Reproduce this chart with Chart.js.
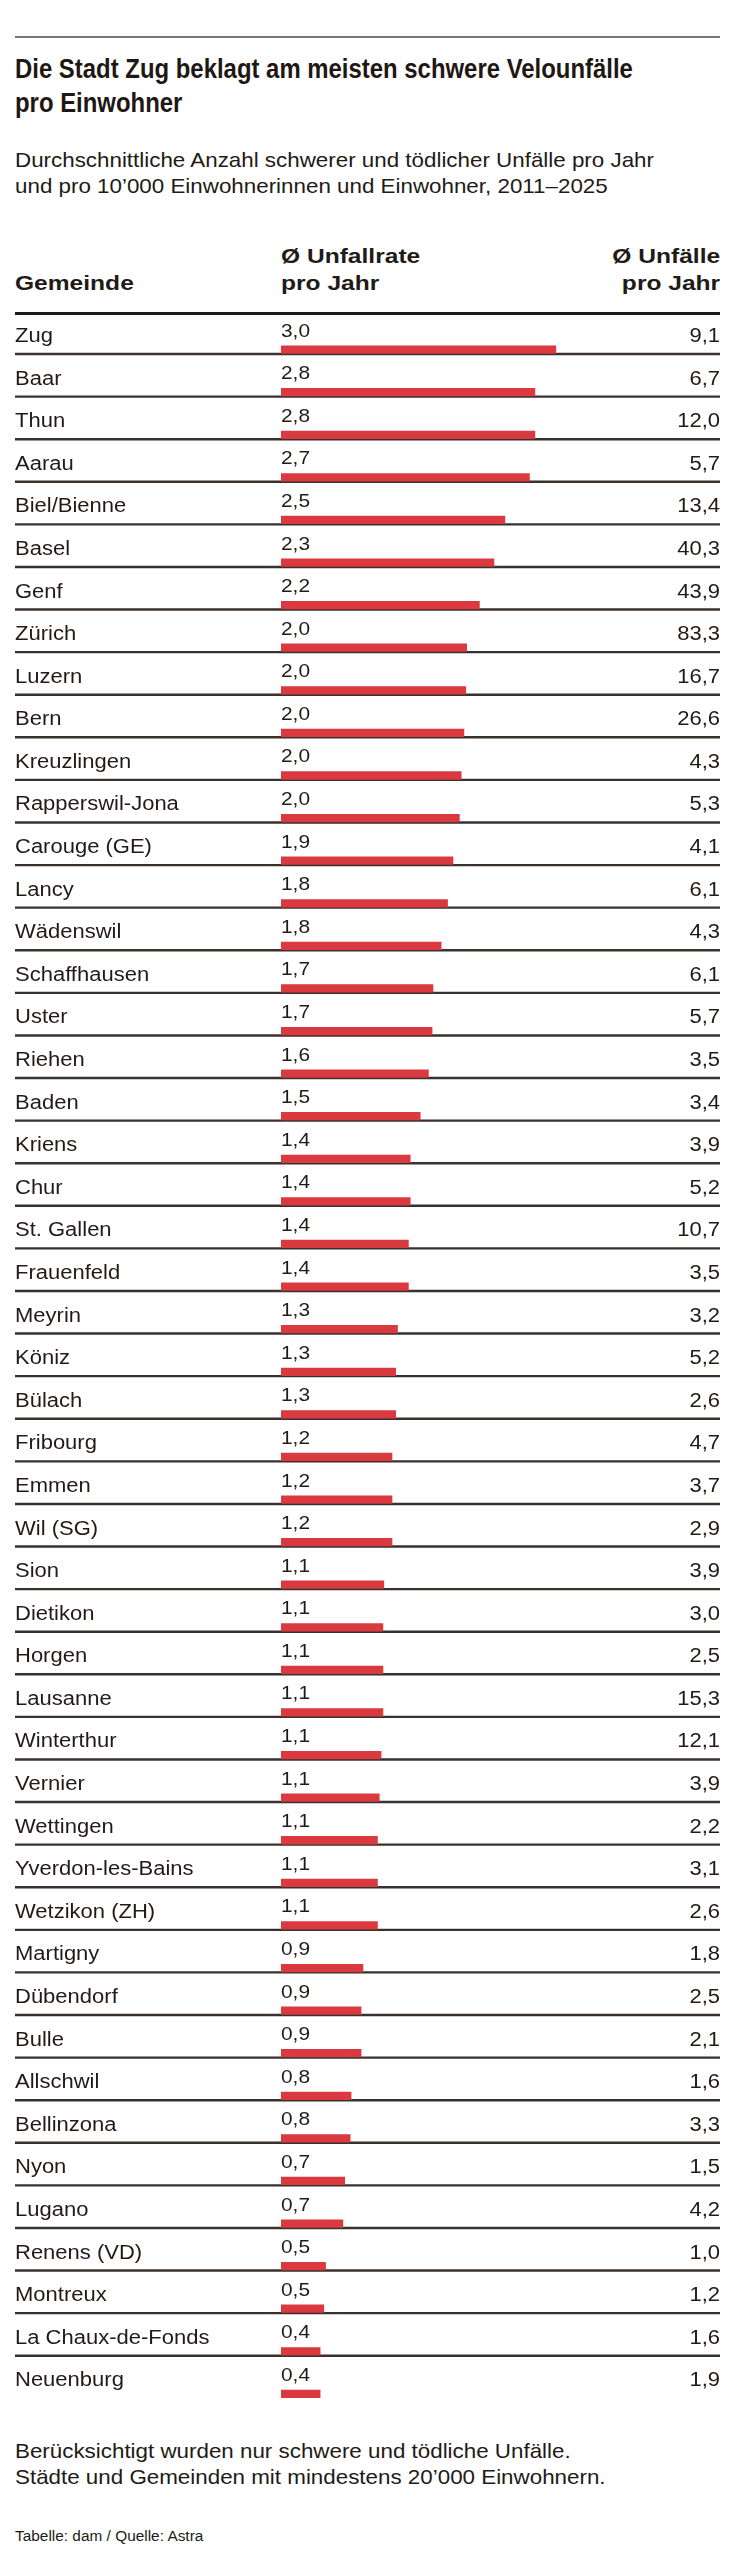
<!DOCTYPE html>
<html lang="de">
<head>
<meta charset="utf-8">
<title>Velounfälle pro Einwohner</title>
<script src="https://cdn.jsdelivr.net/npm/chart.js@4.4.1/dist/chart.umd.min.js"></script>
<style>
  body { margin: 0; background: #fff; }
  #page { position: relative; width: 738px; height: 2560px; overflow: hidden;
          font-family: 'Liberation Sans', Arial, Helvetica, sans-serif; color: #221a16; }
  .abs { position: absolute; white-space: nowrap; }
  .rule { position: absolute; left: 15px; width: 705px; }
  #title { left: 15px; top: 52.3px; font-weight: bold; font-size: 28px; line-height: 34px;
           transform: scaleX(0.854); transform-origin: left top; color: #1f1713; }
  .reg { font-size: 21px; line-height: 26px; transform: scaleX(1.065); transform-origin: left top; }
  .head { font-weight: bold; font-size: 21px; line-height: 27px; top: 242.2px;
          transform: scaleX(1.17); transform-origin: left top; }
  #credit { left: 15px; top: 2527.6px; font-size: 14px; line-height: 17px;
            transform: scaleX(1.1); transform-origin: left top; }
  #chartBox { position: absolute; left: 0; top: 300px; width: 738px; height: 2125px; }
</style>
</head>
<body>
<div id="page">
  <div class="rule" style="top:36px;height:2px;background:#7d7671;"></div>
  <div id="title" class="abs">Die Stadt Zug beklagt am meisten schwere Velounfälle<br>pro Einwohner</div>
  <div class="abs reg" style="left:15px;top:146.7px;">Durchschnittliche Anzahl schwerer und tödlicher Unfälle pro Jahr<br>und pro 10’000 Einwohnerinnen und Einwohner, 2011–2025</div>

  <div class="abs head" style="left:15px;top:269.2px;">Gemeinde</div>
  <div class="abs head" style="left:281px;">Ø Unfallrate<br>pro Jahr</div>
  <div class="abs head" style="right:18px;text-align:right;transform-origin:right top;">Ø Unfälle<br>pro Jahr</div>
  <div class="rule" style="top:311.5px;height:3px;background:#221a16;"></div>

  <div id="chartBox"><canvas id="myChart"></canvas></div>

  <div class="abs reg" style="left:15px;top:2437.7px;">Berücksichtigt wurden nur schwere und tödliche Unfälle.<br>Städte und Gemeinden mit mindestens 20’000 Einwohnern.</div>
  <div id="credit" class="abs">Tabelle: dam / Quelle: Astra</div>
</div>

<script>
// Gemeinden
var gemeinden = ['Zug', 'Baar', 'Thun', 'Aarau', 'Biel/Bienne', 'Basel', 'Genf', 'Zürich', 'Luzern', 'Bern',
  'Kreuzlingen', 'Rapperswil-Jona', 'Carouge (GE)', 'Lancy', 'Wädenswil', 'Schaffhausen', 'Uster', 'Riehen',
  'Baden', 'Kriens', 'Chur', 'St. Gallen', 'Frauenfeld', 'Meyrin', 'Köniz', 'Bülach', 'Fribourg', 'Emmen',
  'Wil (SG)', 'Sion', 'Dietikon', 'Horgen', 'Lausanne', 'Winterthur', 'Vernier', 'Wettingen',
  'Yverdon-les-Bains', 'Wetzikon (ZH)', 'Martigny', 'Dübendorf', 'Bulle', 'Allschwil', 'Bellinzona', 'Nyon',
  'Lugano', 'Renens (VD)', 'Montreux', 'La Chaux-de-Fonds', 'Neuenburg'];

// Ø Unfallrate pro Jahr (pro 10'000 Einwohner)
var unfallrate = [3.02, 2.79, 2.79, 2.73, 2.46, 2.34, 2.18, 2.04, 2.03, 2.01,
  1.98, 1.96, 1.89, 1.83, 1.76, 1.67, 1.66, 1.62,
  1.53, 1.42, 1.42, 1.40, 1.40, 1.28, 1.26, 1.26, 1.22, 1.22,
  1.22, 1.13, 1.12, 1.12, 1.12, 1.10, 1.08, 1.06,
  1.06, 1.06, 0.90, 0.88, 0.88, 0.77, 0.76, 0.70,
  0.68, 0.49, 0.47, 0.43, 0.43];

// Ø Unfälle pro Jahr
var unfaelle = [9.1, 6.7, 12.0, 5.7, 13.4, 40.3, 43.9, 83.3, 16.7, 26.6,
  4.3, 5.3, 4.1, 6.1, 4.3, 6.1, 5.7, 3.5,
  3.4, 3.9, 5.2, 10.7, 3.5, 3.2, 5.2, 2.6, 4.7, 3.7,
  2.9, 3.9, 3.0, 2.5, 15.3, 12.1, 3.9, 2.2,
  3.1, 2.6, 1.8, 2.5, 2.1, 1.6, 3.3, 1.5,
  4.2, 1.0, 1.2, 1.6, 1.9];

var ROW_H = 42.59;
var PAD_TOP = 28.3;
var PX_PER_UNIT = 91;
var FONT = "'Liberation Sans', Arial, Helvetica, sans-serif";
var INK = '#221a16';

function fmt(v) {
  return v.toFixed(1).replace('.', ',');
}

function drawText(ctx, txt, x, y, font, sx, align) {
  ctx.save();
  ctx.translate(x, y);
  ctx.scale(sx, 1);
  ctx.font = font;
  ctx.textAlign = align || 'left';
  ctx.textBaseline = 'alphabetic';
  ctx.fillStyle = INK;
  ctx.fillText(txt, 0, 0);
  ctx.restore();
}

// rows: separators under the bars, texts on top
var tablePlugin = {
  id: 'tablePlugin',
  beforeDatasetsDraw: function (chart) {
    var ctx = chart.ctx, y = chart.scales.y;
    ctx.save();
    ctx.strokeStyle = '#3a312c';
    ctx.lineWidth = 2.4;
    for (var i = 0; i < gemeinden.length - 1; i++) {
      var yy = y.getPixelForValue(i) + 4.4;
      ctx.beginPath();
      ctx.moveTo(15, yy);
      ctx.lineTo(720, yy);
      ctx.stroke();
    }
    ctx.restore();
  },
  afterDatasetsDraw: function (chart) {
    var ctx = chart.ctx, y = chart.scales.y, left = chart.chartArea.left;
    for (var i = 0; i < gemeinden.length; i++) {
      var c = y.getPixelForValue(i);
      drawText(ctx, gemeinden[i], 15, c - 7.6, '20px ' + FONT, 1.1);
      drawText(ctx, fmt(unfallrate[i]), left, c - 13, '19px ' + FONT, 1.1);
      drawText(ctx, fmt(unfaelle[i]), 720, c - 7.6, '20px ' + FONT, 1.1, 'right');
    }
  }
};

var boxH = document.getElementById('chartBox').clientHeight;

data = {
  labels: gemeinden,
  datasets: [{
    label: 'Ø Unfallrate pro Jahr',
    data: unfallrate,
    backgroundColor: '#d9393f',
    borderWidth: 0,
    barThickness: 7.6
  }]
};

let config = {
  type: 'bar',
  data,
  options: {
    indexAxis: 'y',
    responsive: true,
    maintainAspectRatio: false,
    animation: false,
    layout: {
      padding: { left: 281, right: 18, top: PAD_TOP, bottom: boxH - PAD_TOP - ROW_H * gemeinden.length }
    },
    scales: {
      x: { type: 'linear', min: 0, max: (720 - 281) / PX_PER_UNIT, display: false },
      y: { type: 'category', offset: true, display: false }
    },
    plugins: {
      legend: { display: false },
      tooltip: { enabled: false }
    }
  },
  plugins: [tablePlugin]
};

var myChart = new Chart(document.getElementById('myChart'), config);
</script>
</body>
</html>
